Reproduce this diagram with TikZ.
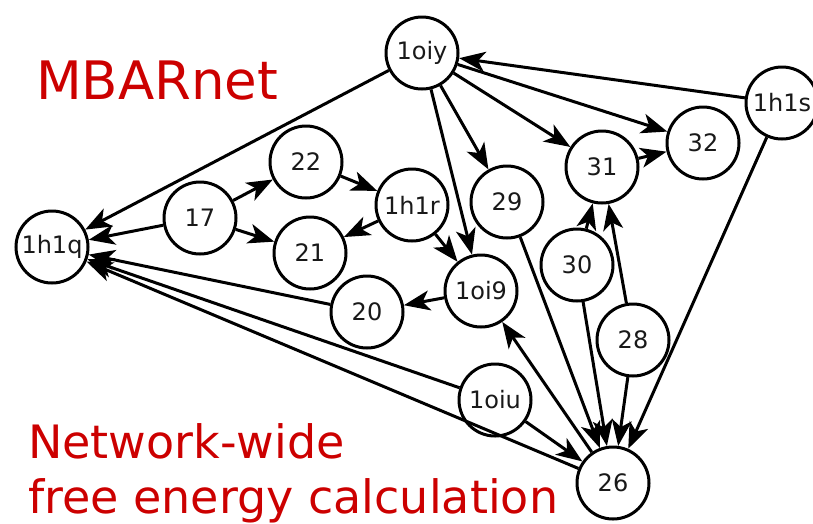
\documentclass[tikz,border=0pt]{standalone}
\usepackage{fontspec}
\setmainfont{DejaVu Sans}
\usetikzlibrary{arrows.meta}

\definecolor{titlered}{RGB}{204,0,0}

\begin{document}
\begin{tikzpicture}[
		x=1pt, y=-1pt,
		ligand/.style={circle, draw, line width=3pt, minimum size=72pt, inner sep=0pt,
			fill=white, text=black!90, font=\fontsize{24}{26}\selectfont},
		edge/.style={line width=3pt, -{Stealth[length=26pt, width=20pt, inset=7pt]}},
		title/.style={anchor=base west, text=titlered, align=left, inner sep=0pt}
		]
		\useasboundingbox (0,0) rectangle (813,523);
		\node[title, font=\fontsize{53}{60}\selectfont] (mbar) at (36,99) {MBARnet};
		\node[title, font=\fontsize{46}{55}\selectfont] (netwide) at (28,513) {Network-wide\\free energy calculation};

		\node[ligand] (n1oiy) at (422,53) {1oiy};
		\node[ligand] (n1h1s) at (782,103) {1h1s};
		\node[ligand] (n32) at (703,143) {32};
		\node[ligand] (n31) at (602,167) {31};
		\node[ligand] (n29) at (507,202) {29};
		\node[ligand] (n1h1r) at (412,205) {1h1r};
		\node[ligand] (n22) at (306,162) {22};
		\node[ligand] (n17) at (200,218) {17};
		\node[ligand] (n21) at (310,253) {21};
		\node[ligand] (n1h1q) at (52,247) {1h1q};
		\node[ligand] (n20) at (367,312) {20};
		\node[ligand] (n1oi9) at (481,291) {1oi9};
		\node[ligand] (n30) at (577,265) {30};
		\node[ligand] (n28) at (633,340) {28};
		\node[ligand] (n1oiu) at (495,400) {1oiu};
		\node[ligand] (n26) at (613,483) {26};

		\draw[edge] (n1oiy) -- (n1h1q);
		\draw[edge] (n17) -- (n1h1q);
		\draw[edge] (n20) -- (n1h1q);
		\draw[edge] (n1oiu) -- (n1h1q);
		\draw[edge] (n26) -- (n1h1q);
		\draw[edge] (n17) -- (n22);
		\draw[edge] (n17) -- (n21);
		\draw[edge] (n22) -- (n1h1r);
		\draw[edge] (n1h1r) -- (n21);
		\draw[edge] (n1h1r) -- (n1oi9);
		\draw[edge] (n1oiy) -- (n1oi9);
		\draw[edge] (n1oiy) -- (n29);
		\draw[edge] (n1oiy) -- (n31);
		\draw[edge] (n1oiy) -- (n32);
		\draw[edge] (n1h1s) -- (n1oiy);
		\draw[edge] (n31) -- (n32);
		\draw[edge] (n30) -- (n31);
		\draw[edge] (n28) -- (n31);
		\draw[edge] (n1oi9) -- (n20);
		\draw[edge] (n26) -- (n1oi9);
		\draw[edge] (n1oiu) -- (n26);
		\draw[edge] (n29) -- (n26);
		\draw[edge] (n30) -- (n26);
		\draw[edge] (n28) -- (n26);
		\draw[edge] (n1h1s) -- (n26);
	\end{tikzpicture}
\end{document}
